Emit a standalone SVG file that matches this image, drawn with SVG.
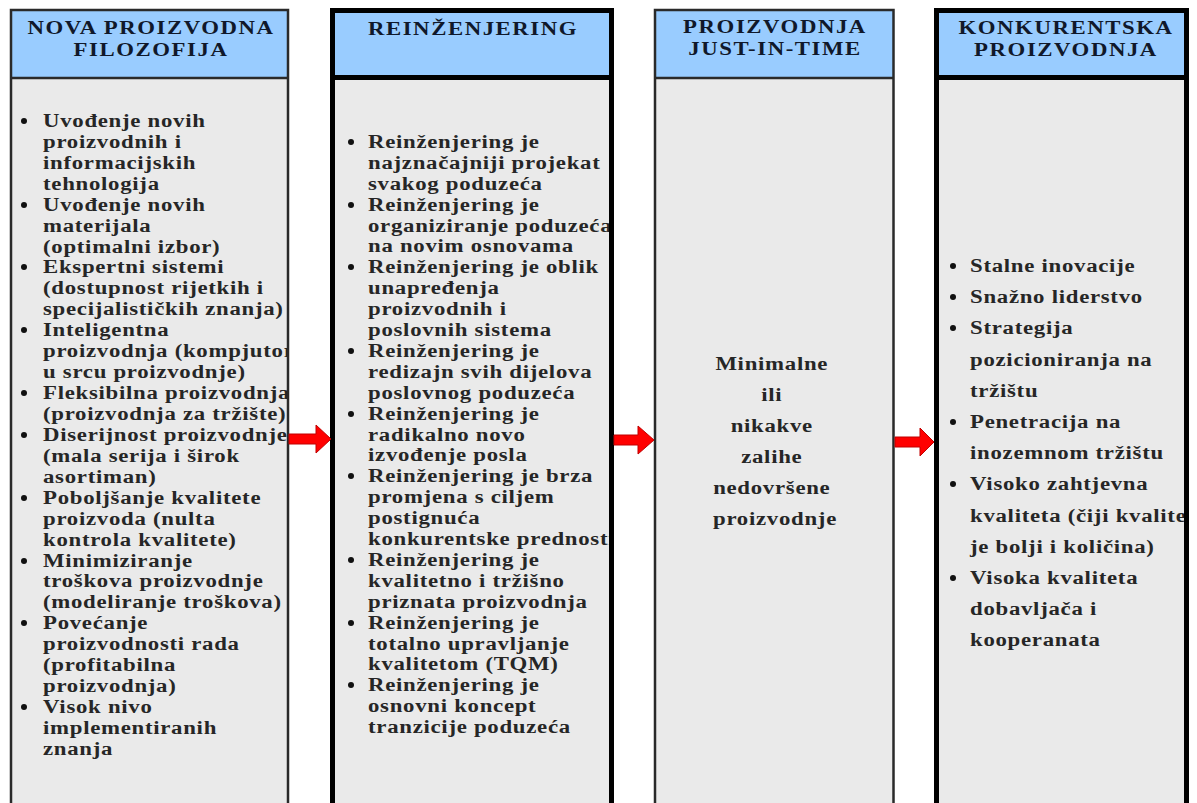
<svg xmlns="http://www.w3.org/2000/svg" width="1197" height="803" viewBox="0 0 1197 803">
<style>
.bg{fill:#ffffff}
.body{fill:#eaeaea}
.head{fill:#99ccff}
.thin{fill:none;stroke:#2a2a2a;stroke-width:2.5}
.thick{fill:none;stroke:#000;stroke-width:5}
.ht{font-family:"Liberation Serif","Times New Roman",serif;font-weight:bold;font-size:19px;letter-spacing:1.3px;fill:#10182a;text-anchor:middle}
.bt{font-family:"Liberation Serif","Times New Roman",serif;font-weight:bold;font-size:19px;letter-spacing:0.6px;fill:#262626}
.ct{text-anchor:middle}
.dot{fill:#111}
.arrow{fill:#ff0000;stroke:#c00000;stroke-width:1}
</style>
<defs>
<clipPath id="c1"><rect x="11" y="78" width="277" height="730"/></clipPath>
<clipPath id="c2"><rect x="332" y="78" width="279" height="730"/></clipPath>
<clipPath id="c4"><rect x="936" y="78" width="250" height="730"/></clipPath>
</defs>
<rect class="bg" x="0" y="0" width="1197" height="803"/>

<g id="node1">
<rect class="body" x="11" y="10" width="277" height="800"/>
<rect class="head" x="11" y="10" width="277" height="68"/>
<line class="thin" x1="11" y1="78" x2="288" y2="78"/>
<text class="ht" transform="translate(151,0) scale(1.2,1)"><tspan x="0" y="34">NOVA PROIZVODNA</tspan><tspan x="0" y="56">FILOZOFIJA</tspan></text>
<g class="dot">
<circle cx="24" cy="121" r="3"/><circle cx="24" cy="205" r="3"/><circle cx="24" cy="267" r="3"/><circle cx="24" cy="330" r="3"/><circle cx="24" cy="393" r="3"/><circle cx="24" cy="435" r="3"/><circle cx="24" cy="498" r="3"/><circle cx="24" cy="561" r="3"/><circle cx="24" cy="623" r="3"/><circle cx="24" cy="707" r="3"/>
</g>
<g clip-path="url(#c1)">
<text class="bt" transform="translate(43,0) scale(1.2,1)">
<tspan x="0" y="127">Uvođenje novih</tspan>
<tspan x="0" y="148">proizvodnih i</tspan>
<tspan x="0" y="169">informacijskih</tspan>
<tspan x="0" y="190">tehnologija</tspan>
<tspan x="0" y="211">Uvođenje novih</tspan>
<tspan x="0" y="232">materijala</tspan>
<tspan x="0" y="253">(optimalni izbor)</tspan>
<tspan x="0" y="273.5">Ekspertni sistemi</tspan>
<tspan x="0" y="294">(dostupnost rijetkih i</tspan>
<tspan x="0" y="315">specijalističkih znanja)</tspan>
<tspan x="0" y="336">Inteligentna</tspan>
<tspan x="0" y="357">proizvodnja (kompjutor</tspan>
<tspan x="0" y="378">u srcu proizvodnje)</tspan>
<tspan x="0" y="399">Fleksibilna proizvodnja</tspan>
<tspan x="0" y="420">(proizvodnja za tržište)</tspan>
<tspan x="0" y="441">Diserijnost proizvodnje</tspan>
<tspan x="0" y="462">(mala serija i širok</tspan>
<tspan x="0" y="483">asortiman)</tspan>
<tspan x="0" y="504">Poboljšanje kvalitete</tspan>
<tspan x="0" y="525">proizvoda (nulta</tspan>
<tspan x="0" y="546">kontrola kvalitete)</tspan>
<tspan x="0" y="567">Minimiziranje</tspan>
<tspan x="0" y="587.5">troškova proizvodnje</tspan>
<tspan x="0" y="608">(modeliranje troškova)</tspan>
<tspan x="0" y="629">Povećanje</tspan>
<tspan x="0" y="650">proizvodnosti rada</tspan>
<tspan x="0" y="671">(profitabilna</tspan>
<tspan x="0" y="692">proizvodnja)</tspan>
<tspan x="0" y="713">Visok nivo</tspan>
<tspan x="0" y="734">implementiranih</tspan>
<tspan x="0" y="755">znanja</tspan>
</text>
</g>
<rect class="thin" x="11" y="10" width="277" height="800"/>
</g>

<g id="node2">
<rect class="body" x="332.5" y="10.5" width="279" height="800"/>
<rect class="head" x="332.5" y="10.5" width="279" height="67"/>
<line class="thick" x1="332.5" y1="77.5" x2="611.5" y2="77.5"/>
<text class="ht" transform="translate(473,0) scale(1.2,1)"><tspan x="0" y="35">REINŽENJERING</tspan></text>
<g class="dot">
<circle cx="351" cy="142" r="3"/><circle cx="351" cy="205" r="3"/><circle cx="351" cy="267" r="3"/><circle cx="351" cy="351" r="3"/><circle cx="351" cy="414" r="3"/><circle cx="351" cy="476" r="3"/><circle cx="351" cy="560" r="3"/><circle cx="351" cy="623" r="3"/><circle cx="351" cy="685" r="3"/>
</g>
<g clip-path="url(#c2)">
<text class="bt" transform="translate(368,0) scale(1.2,1)">
<tspan x="0" y="148">Reinženjering je</tspan>
<tspan x="0" y="169">najznačajniji projekat</tspan>
<tspan x="0" y="190">svakog poduzeća</tspan>
<tspan x="0" y="211">Reinženjering je</tspan>
<tspan x="0" y="232">organiziranje poduzeća</tspan>
<tspan x="0" y="252.5">na novim osnovama</tspan>
<tspan x="0" y="273">Reinženjering je oblik</tspan>
<tspan x="0" y="294">unapređenja</tspan>
<tspan x="0" y="315">proizvodnih i</tspan>
<tspan x="0" y="336">poslovnih sistema</tspan>
<tspan x="0" y="357">Reinženjering je</tspan>
<tspan x="0" y="378">redizajn svih dijelova</tspan>
<tspan x="0" y="399">poslovnog poduzeća</tspan>
<tspan x="0" y="420">Reinženjering je</tspan>
<tspan x="0" y="441">radikalno novo</tspan>
<tspan x="0" y="461.5">izvođenje posla</tspan>
<tspan x="0" y="482">Reinženjering je brza</tspan>
<tspan x="0" y="503">promjena s ciljem</tspan>
<tspan x="0" y="524">postignuća</tspan>
<tspan x="0" y="545">konkurentske prednosti</tspan>
<tspan x="0" y="566">Reinženjering je</tspan>
<tspan x="0" y="587">kvalitetno i tržišno</tspan>
<tspan x="0" y="608">priznata proizvodnja</tspan>
<tspan x="0" y="629">Reinženjering je</tspan>
<tspan x="0" y="650">totalno upravljanje</tspan>
<tspan x="0" y="670.5">kvalitetom (TQM)</tspan>
<tspan x="0" y="691">Reinženjering je</tspan>
<tspan x="0" y="712">osnovni koncept</tspan>
<tspan x="0" y="733">tranzicije poduzeća</tspan>
</text>
</g>
<rect class="thick" x="332.5" y="10.5" width="279" height="800"/>
</g>

<g id="node3">
<rect class="body" x="655" y="10" width="238.5" height="800"/>
<rect class="head" x="655" y="10" width="238.5" height="68"/>
<line class="thin" x1="655" y1="78" x2="893.5" y2="78"/>
<text class="ht" transform="translate(775,0) scale(1.2,1)"><tspan x="0" y="33">PROIZVODNJA</tspan><tspan x="0" y="55">JUST-IN-TIME</tspan></text>
<text class="bt ct" transform="translate(775,0) scale(1.2,1)">
<tspan x="0" y="370">Minimalne</tspan>
<tspan x="0" y="401">ili</tspan>
<tspan x="0" y="432">nikakve</tspan>
<tspan x="0" y="463">zalihe</tspan>
<tspan x="0" y="494">nedovršene</tspan>
<tspan x="0" y="525">proizvodnje</tspan>
</text>
<rect class="thin" x="655" y="10" width="238.5" height="800"/>
</g>

<g id="node4">
<rect class="body" x="936.5" y="10.5" width="250" height="800"/>
<rect class="head" x="936.5" y="10.5" width="250" height="67"/>
<line class="thick" x1="936.5" y1="77.5" x2="1186.5" y2="77.5"/>
<text class="ht" transform="translate(1066,0) scale(1.2,1)"><tspan x="0" y="34">KONKURENTSKA</tspan><tspan x="0" y="56">PROIZVODNJA</tspan></text>
<g class="dot">
<circle cx="953" cy="266" r="3"/><circle cx="953" cy="297" r="3"/><circle cx="953" cy="328" r="3"/><circle cx="953" cy="422" r="3"/><circle cx="953" cy="484" r="3"/><circle cx="953" cy="578" r="3"/>
</g>
<g clip-path="url(#c4)">
<text class="bt" transform="translate(970,0) scale(1.2,1)">
<tspan x="0" y="272">Stalne inovacije</tspan>
<tspan x="0" y="303">Snažno liderstvo</tspan>
<tspan x="0" y="334">Strategija</tspan>
<tspan x="0" y="366">pozicioniranja na</tspan>
<tspan x="0" y="397">tržištu</tspan>
<tspan x="0" y="428">Penetracija na</tspan>
<tspan x="0" y="459">inozemnom tržištu</tspan>
<tspan x="0" y="490">Visoko zahtjevna</tspan>
<tspan x="0" y="522">kvaliteta (čiji kvalitet</tspan>
<tspan x="0" y="553">je bolji i količina)</tspan>
<tspan x="0" y="584">Visoka kvaliteta</tspan>
<tspan x="0" y="615">dobavljača i</tspan>
<tspan x="0" y="646">kooperanata</tspan>
</text>
</g>
<rect class="thick" x="936.5" y="10.5" width="250" height="800"/>
</g>

<g id="connectors">
<polygon class="arrow" points="289,434 316,434 316,425 331,439 316,453 316,444 289,444"/>
<polygon class="arrow" points="614,435 638,435 638,426 654,440 638,454 638,445 614,445"/>
<polygon class="arrow" points="895,437 920,437 920,428 934,442 920,456 920,447 895,447"/>
</g>
</svg>
